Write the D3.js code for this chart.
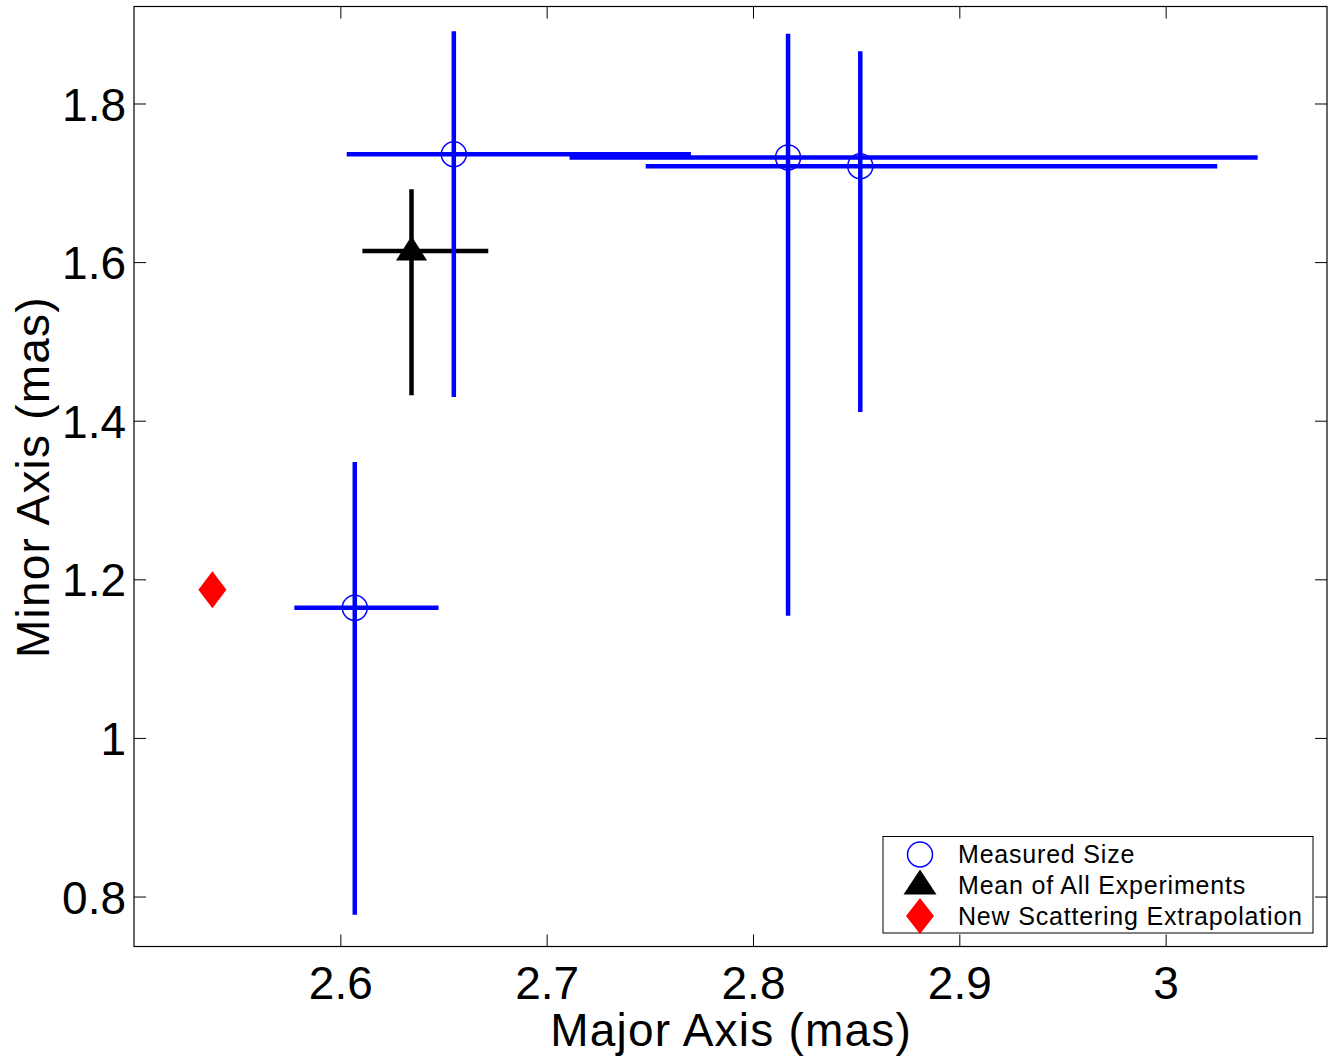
<!DOCTYPE html>
<html><head><meta charset="utf-8">
<script src="https://cdn.jsdelivr.net/npm/d3@7"></script>
<style>body{margin:0;background:#fff}svg{display:block}text{font-family:Arial,"Liberation Sans",sans-serif;fill:#000}</style>
</head><body><svg id="c" width="1337" height="1060"></svg>
<script>
// Measured sizes (blue)
const measX = [2.607, 2.655, 2.817, 2.852];
const measY = [1.164, 1.736, 1.732, 1.721];
const measXlo = [2.5777, 2.6031, 2.7111, 2.748];
const measXhi = [2.6476, 2.7699, 3.0446, 3.025];
const measYlo = [0.777, 1.430, 1.154, 1.411];
const measYhi = [1.348, 1.891, 1.888, 1.866];
// Mean of all experiments (black)
const meanX = [2.6345];
const meanY = [1.614];
const meanXlo = [2.6107];
const meanXhi = [2.6717];
const meanYlo = [1.432];
const meanYhi = [1.692];
// New scattering extrapolation (red)
const scatX = [2.538];
const scatY = [1.187];
const xTicks = [2.6, 2.7, 2.8, 2.9, 3];
const yTicks = [0.8, 1, 1.2, 1.4, 1.6, 1.8];
const legendLabels = ["Measured Size", "Mean of All Experiments", "New Scattering Extrapolation"];

const svg = d3.select("#c");
const L = 134, R = 1327, T = 6.5, B = 946.5;
const x = d3.scaleLinear().domain([2.5, 3.0782]).range([L, R]);
const y = d3.scaleLinear().domain([0.737, 1.9223]).range([B, T]);
const fmt = d => d3.format("")(d);

// axes
const fs = 46;
svg.append("g").attr("transform", `translate(0,${B})`)
  .call(d3.axisBottom(x).tickValues(xTicks).tickFormat(fmt).tickSizeInner(-12).tickSizeOuter(0).tickPadding(20))
  .call(g => { g.select(".domain").remove(); g.selectAll("text").attr("font-size", fs).attr("dy", 0).attr("y", 52).style("font-family","Arial, 'Liberation Sans', sans-serif"); g.selectAll("line").attr("stroke", "#000"); });
svg.append("g").attr("transform", `translate(0,${T})`)
  .call(d3.axisTop(x).tickValues(xTicks).tickFormat("").tickSizeInner(-12).tickSizeOuter(0))
  .call(g => { g.select(".domain").remove(); g.selectAll("line").attr("stroke", "#000"); });
svg.append("g").attr("transform", `translate(${L},0)`)
  .call(d3.axisLeft(y).tickValues(yTicks).tickFormat(fmt).tickSizeInner(-12).tickSizeOuter(0))
  .call(g => { g.select(".domain").remove(); g.selectAll("text").attr("font-size", fs).attr("x", -8).attr("dy", "0.36em").style("font-family","Arial, 'Liberation Sans', sans-serif"); g.selectAll("line").attr("stroke", "#000"); });
svg.append("g").attr("transform", `translate(${R},0)`)
  .call(d3.axisRight(y).tickValues(yTicks).tickFormat("").tickSizeInner(-12).tickSizeOuter(0))
  .call(g => { g.select(".domain").remove(); g.selectAll("line").attr("stroke", "#000"); });
svg.append("rect").attr("x", L).attr("y", T).attr("width", R - L).attr("height", B - T)
  .attr("fill", "none").attr("stroke", "#000").attr("stroke-width", 1.2);

// titles
svg.append("text").attr("x", (L + R) / 2 + 0.6).attr("y", 1046).attr("text-anchor", "middle").attr("font-size", fs).attr("letter-spacing", 1.2).text("Major Axis (mas)");
svg.append("text").attr("transform", `translate(49,${(T + B) / 2 + 0.6}) rotate(-90)`).attr("text-anchor", "middle").attr("font-size", fs).attr("letter-spacing", 1.2).text("Minor Axis (mas)");

const plot = svg.append("g");
// black mean error bars (under blue)
meanX.forEach((v, i) => {
  plot.append("line").attr("x1", x(meanXlo[i])).attr("x2", x(meanXhi[i])).attr("y1", y(meanY[i])).attr("y2", y(meanY[i])).attr("stroke", "#000").attr("stroke-width", 4.5);
  plot.append("line").attr("x1", x(v)).attr("x2", x(v)).attr("y1", y(meanYlo[i])).attr("y2", y(meanYhi[i])).attr("stroke", "#000").attr("stroke-width", 4.5);
  plot.append("path").attr("d", `M${x(v)},${y(meanY[i]) - 15} L${x(v) + 15.5},${y(meanY[i]) + 9.5} L${x(v) - 15.5},${y(meanY[i]) + 9.5}Z`).attr("fill", "#000");
});
// blue measured
measX.forEach((v, i) => {
  plot.append("line").attr("x1", x(measXlo[i])).attr("x2", x(measXhi[i])).attr("y1", y(measY[i])).attr("y2", y(measY[i])).attr("stroke", "#0000ff").attr("stroke-width", 4.5);
  plot.append("line").attr("x1", x(v)).attr("x2", x(v)).attr("y1", y(measYlo[i])).attr("y2", y(measYhi[i])).attr("stroke", "#0000ff").attr("stroke-width", 4.5);
});
measX.forEach((v, i) => {
  plot.append("circle").attr("cx", x(v)).attr("cy", y(measY[i])).attr("r", 12.5).attr("fill", "none").attr("stroke", "#0000ff").attr("stroke-width", 1.5);
});
// red diamond
scatX.forEach((v, i) => {
  const cx = x(v), cy = y(scatY[i]);
  plot.append("path").attr("d", `M${cx},${cy - 18.5} L${cx + 14},${cy} L${cx},${cy + 18.5} L${cx - 14},${cy}Z`).attr("fill", "#ff0000");
});

// legend
const lg = svg.append("g");
lg.append("rect").attr("x", 883).attr("y", 836.5).attr("width", 430).attr("height", 96.5).attr("fill", "#fff").attr("stroke", "#000").attr("stroke-width", 1);
const rowY = [854.5, 885.5, 916];
lg.append("circle").attr("cx", 920).attr("cy", rowY[0]).attr("r", 12.5).attr("fill", "none").attr("stroke", "#0000ff").attr("stroke-width", 1.5);
lg.append("path").attr("d", `M920,${rowY[1] - 16} L936.5,${rowY[1] + 9} L903.5,${rowY[1] + 9}Z`).attr("fill", "#000");
lg.append("path").attr("d", `M920,${rowY[2] - 18} L934,${rowY[2]} L920,${rowY[2] + 18} L906,${rowY[2]}Z`).attr("fill", "#ff0000");
legendLabels.forEach((t, i) => {
  lg.append("text").attr("x", 958).attr("y", rowY[i] + 8.5).attr("font-size", 25).attr("letter-spacing", 0.8).text(t);
});
</script></body></html>
